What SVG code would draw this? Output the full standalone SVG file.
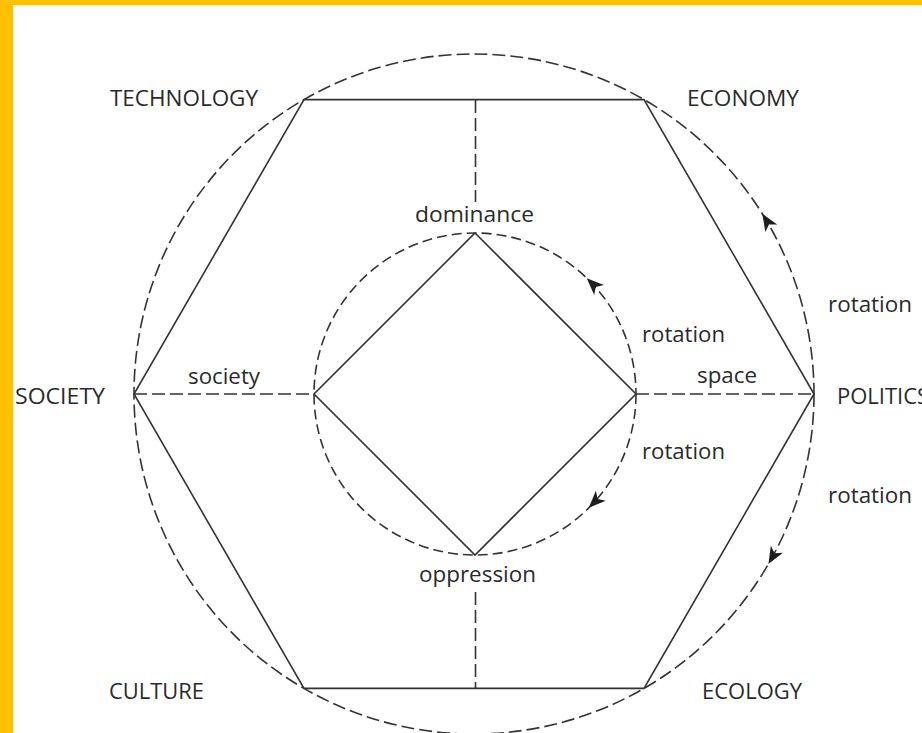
<svg xmlns="http://www.w3.org/2000/svg" width="922" height="733" viewBox="0 0 922 733">
<style>
.bg{fill:#ffffff}
.frame{fill:#ffc000}
.solid{fill:none;stroke:#333;stroke-width:1.6;stroke-linejoin:miter}
.outer{fill:none;stroke:#333;stroke-width:1.6;stroke-dasharray:13 5}
.inner{fill:none;stroke:#333;stroke-width:1.6;stroke-dasharray:10 5}
.dash{fill:none;stroke:#333;stroke-width:1.6;stroke-dasharray:13 5}
.arrow{fill:#1e1e1e;stroke:none}
text{font-family:"Open Sans","Noto Sans","Liberation Sans",sans-serif;font-size:22px;fill:#2a2a2a}
</style>
<defs>
<polygon id="ah" points="0,0 -17,-7 -12.5,0 -17,7"/>
</defs>
<rect class="bg" x="0" y="0" width="922" height="733"/>
<rect class="frame" x="0" y="0" width="922" height="5"/>
<rect class="frame" x="0" y="0" width="13" height="733"/>

<g id="outer-circle"><circle class="outer" cx="474" cy="394" r="340"/></g>
<g id="hexagon"><polygon class="solid" points="304,99.6 644,99.6 814,394 644,688.4 304,688.4 134,394"/></g>
<g id="inner-circle"><circle class="inner" cx="475" cy="394" r="161"/></g>
<g id="diamond"><polygon class="solid" points="475,233 636,394 475,555 314,394"/></g>

<g id="connectors">
<line class="dash" x1="475.5" y1="100" x2="475.5" y2="202"/>
<line class="dash" x1="475.5" y1="592" x2="475.5" y2="688"/>
<line class="dash" x1="134" y1="394" x2="314" y2="394"/>
<line class="dash" x1="636" y1="394" x2="814" y2="394"/>
<use href="#ah" class="arrow" transform="translate(586.8,278.2) rotate(-136)"/>
<use href="#ah" class="arrow" transform="translate(588.8,507.8) rotate(135)"/>
<use href="#ah" class="arrow" transform="translate(762.3,213.8) rotate(-122)"/>
<use href="#ah" class="arrow" transform="translate(768.4,564) rotate(120)"/>
</g>

<g id="technology"><text x="110" y="106" textLength="148" lengthAdjust="spacingAndGlyphs">TECHNOLOGY</text></g>
<g id="economy"><text x="687" y="106" textLength="112" lengthAdjust="spacingAndGlyphs">ECONOMY</text></g>
<g id="politics"><text x="837" y="404">POLITICS</text></g>
<g id="ecology"><text x="702" y="699" textLength="100" lengthAdjust="spacingAndGlyphs">ECOLOGY</text></g>
<g id="culture"><text x="109" y="699" textLength="95" lengthAdjust="spacingAndGlyphs">CULTURE</text></g>
<g id="society-node"><text x="15" y="404" textLength="90" lengthAdjust="spacingAndGlyphs">SOCIETY</text></g>
<g id="dominance"><text x="415" y="222" textLength="119" lengthAdjust="spacingAndGlyphs">dominance</text></g>
<g id="oppression"><text x="419" y="582" textLength="117" lengthAdjust="spacingAndGlyphs">oppression</text></g>
<g id="labels">
<text x="188" y="384" textLength="72" lengthAdjust="spacingAndGlyphs">society</text>
<text x="697" y="383" textLength="60" lengthAdjust="spacingAndGlyphs">space</text>
<text x="642" y="342" textLength="83" lengthAdjust="spacingAndGlyphs">rotation</text>
<text x="642" y="459" textLength="83" lengthAdjust="spacingAndGlyphs">rotation</text>
<text x="828" y="312" textLength="84" lengthAdjust="spacingAndGlyphs">rotation</text>
<text x="828" y="503" textLength="84" lengthAdjust="spacingAndGlyphs">rotation</text>
</g>
</svg>
